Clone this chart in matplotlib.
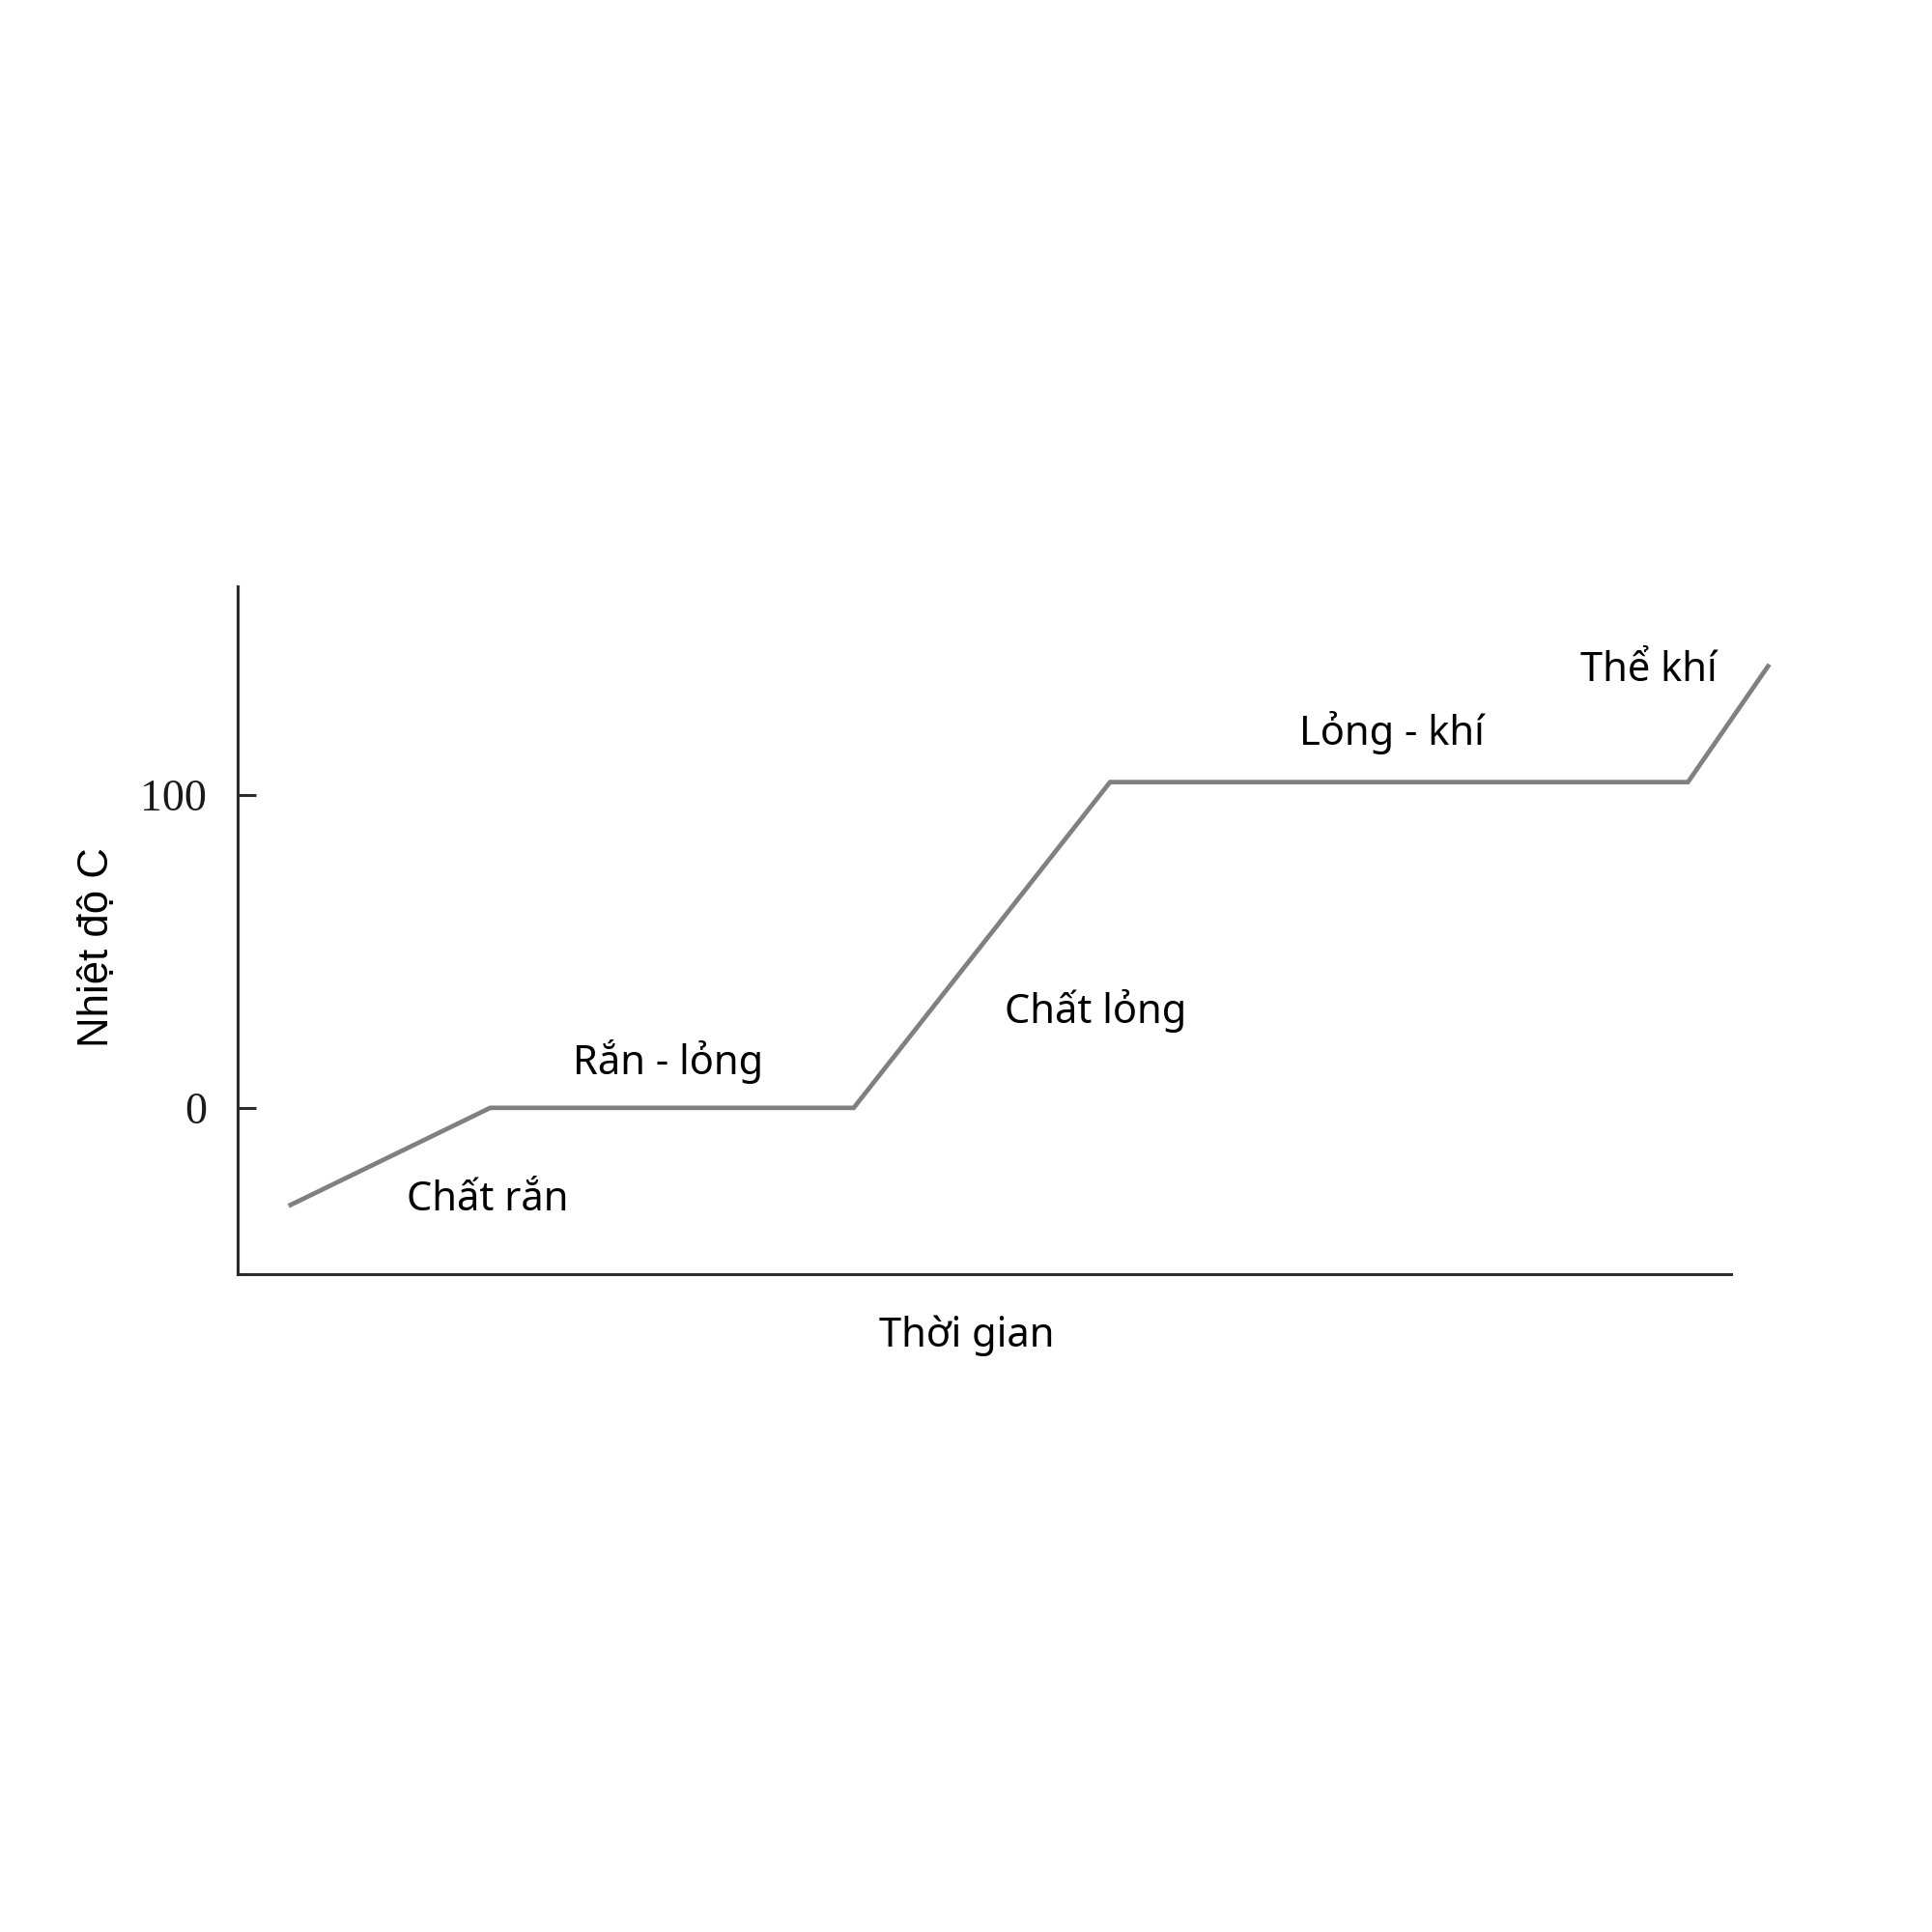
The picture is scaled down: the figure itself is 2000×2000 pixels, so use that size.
import matplotlib
matplotlib.use("Agg")
import matplotlib.pyplot as plt

# heating curve
time = [0.43, 2.05, 5.00, 7.08, 11.77, 12.42]
temp = [-31, 0, 0, 104, 104, 141]

yticks = [0, 100]
phase_labels = ["Chất rắn", "Rắn - lỏng", "Chất lỏng", "Lỏng - khí", "Thể khí"]
label_x = [2.03, 3.49, 6.96, 9.37, 11.45]
label_y = [-29.2, 14.8, 30.8, 119.8, 139.8]

fig = plt.figure(figsize=(20, 20), dpi=100)
ax = fig.add_axes([0.123, 0.3405, 0.773, 0.356])

ax.plot(time, temp, color="#808080", lw=3.4, clip_on=False, solid_joinstyle="miter")

for s, x, y in zip(phase_labels, label_x, label_y):
    ax.text(x, y, s, ha="center", va="center", fontsize=30, family="Noto Sans", color="black")

ax.set_xlim(0, 12.12)
ax.set_ylim(-53.1, 166.5)

for side in ["top", "right"]:
    ax.spines[side].set_visible(False)
for side in ["left", "bottom"]:
    ax.spines[side].set_color("#2b2b2b")
    ax.spines[side].set_linewidth(2.2)

ax.set_xticks([])
ax.set_yticks(yticks)
ax.set_yticklabels([str(v) for v in yticks], family="Liberation Serif", fontsize=33, color="#1a1a1a")
ax.tick_params(axis="y", direction="in", length=14, width=2.2, color="#2b2b2b", pad=23)

ax.set_ylabel("Nhiệt độ C", family="Liberation Sans", fontsize=31.5, va="center")
ax.yaxis.set_label_coords(-0.0944, 0.476)
ax.set_xlabel("Thời gian", family="Noto Sans", fontsize=30, va="center")
ax.xaxis.set_label_coords(0.488, -0.089)

fig.savefig("out.png", dpi=100, facecolor="white")
